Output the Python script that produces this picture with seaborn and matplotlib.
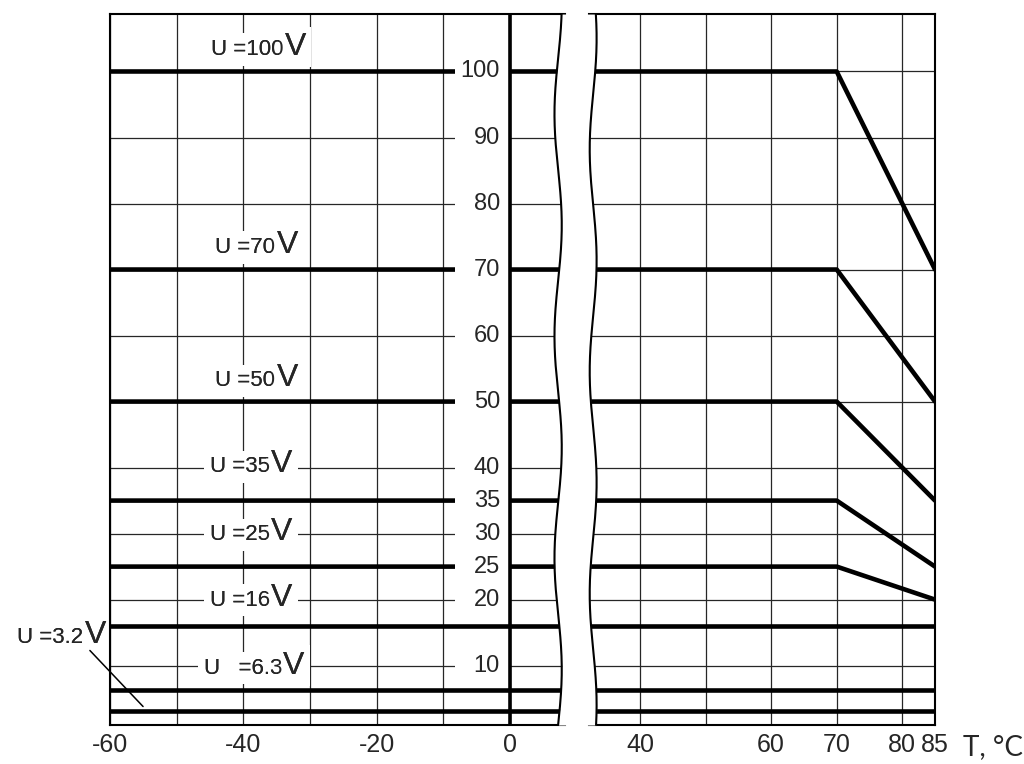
import numpy as np
import pandas as pd
import matplotlib.pyplot as plt
import seaborn as sns

sns.set_style("white")
plt.rcParams['font.family'] = ['Liberation Sans', 'DejaVu Sans']
plt.rcParams['axes.unicode_minus'] = False

# Voltage derating: rated voltage up to 70 °C, reduced value at 85 °C
u_labels = ["100", "70", "50", "35", "25", "16", "6.3", "3.2"]
u_rated = [100, 70, 50, 35, 25, 16, 6.3, 3.2]
u_at_85 = [70, 50, 35, 25, 20, 16, 6.3, 3.2]
t_points = [-60, 70, 85]

# axis ticks / grid
y_tick_values = [100, 90, 80, 70, 60, 50, 40, 35, 30, 25, 20, 10]
grid_y = [10, 20, 30, 40, 50, 60, 70, 80, 90, 100]
left_xticks = [-60, -40, -20, 0]
left_minor_x = [-50, -30, -10]
right_xticks = [40, 60, 70, 80, 85]
right_minor_x = [50]

# lines that cross the tick-label column without a gap
through_lines = ["16", "6.3", "3.2"]

rows = []
for lab, u0, u1 in zip(u_labels, u_rated, u_at_85):
    rows.append((lab, t_points[0], u0))
    rows.append((lab, t_points[1], u0))
    rows.append((lab, t_points[2], u1))
df = pd.DataFrame(rows, columns=["U_label", "T", "U"])

# label layout (end of number x, baseline y)
label_pos = {"100": (-34.0, 102.5), "70": (-35.2, 72.5), "50": (-35.2, 52.3),
             "35": (-36.0, 39.3), "25": (-36.0, 29.0), "16": (-36.0, 19.1),
             "6.3": (-34.2, 8.8), "3.2": (-64.0, 13.5)}

fig = plt.figure(figsize=(10.24, 7.64), dpi=100)
ax_l = fig.add_axes([0.1074, 0.0510, 0.4443, 0.9306])
ax_r = fig.add_axes([0.5752, 0.0510, 0.3379, 0.9306])

grid_kw = dict(color='#262626', lw=0.9)
line_kw = dict(color='black', lw=3.3, legend=False, estimator=None)

for ax in (ax_l, ax_r):
    ax.set_ylim(1.0, 108.7)
    ax.set_yticks(grid_y)
    ax.tick_params(axis='both', which='both', length=0, labelleft=False,
                   labelsize=18, pad=6)
    ax.grid(True, which='both', **grid_kw)
    ax.set_axisbelow(True)
    for s in ax.spines.values():
        s.set_color('black')
        s.set_linewidth(1.5)
        s.set_zorder(6)

# left part
ax_l.set_xlim(-60, 8.25)
ax_l.set_xticks(left_xticks)
ax_l.set_xticks(left_minor_x, minor=True)
main = df[~df["U_label"].isin(through_lines)]
thru = df[df["U_label"].isin(through_lines)]
sns.lineplot(data=main, x="T", y="U", units="U_label", ax=ax_l, zorder=2, **line_kw)
ax_l.axvspan(-8.25, 0, color='white', zorder=3, lw=0)
sns.lineplot(data=thru, x="T", y="U", units="U_label", ax=ax_l, zorder=4, **line_kw)
ax_l.axvline(0, color='black', lw=2.6, zorder=5)
for v in y_tick_values:
    ax_l.text(-1.5, v, str(v), ha='right', va='center', fontsize=17, zorder=6)
ax_l.spines['right'].set_visible(False)

# right part
ax_r.set_xlim(32.2, 85)
ax_r.set_xticks(right_xticks)
ax_r.set_xticks(right_minor_x, minor=True)
sns.lineplot(data=df, x="T", y="U", units="U_label", ax=ax_r, zorder=2, **line_kw)
ax_r.spines['left'].set_visible(False)
for ax in (ax_l, ax_r):
    ax.set_xlabel('')
    ax.set_ylabel('')

# wavy break edges
yy = np.linspace(0, 1, 300)
wave_l = 0.985 + 0.008 * np.sin(yy * 2 * np.pi * 3.2)
ax_l.fill_betweenx(yy, wave_l, 1.03, transform=ax_l.transAxes, color='white',
                   zorder=7, clip_on=False, lw=0)
ax_l.plot(wave_l, yy, transform=ax_l.transAxes, color='black', lw=1.5,
          zorder=8, clip_on=False)
wave_r = 0.012 + 0.01 * np.sin(yy * 2 * np.pi * 3.2 + 1.0)
ax_r.fill_betweenx(yy, -0.03, wave_r, transform=ax_r.transAxes, color='white',
                   zorder=7, clip_on=False, lw=0)
ax_r.plot(wave_r, yy, transform=ax_r.transAxes, color='black', lw=1.5,
          zorder=8, clip_on=False)

# voltage labels: white boxes first, glyphs on top
for lab in u_labels:
    x, y = label_pos[lab]
    txt = "U   =" + lab if lab == "6.3" else "U =" + lab
    box = dict(facecolor='white', edgecolor='none', pad=0 if x < -60 else 4)
    for z, bb in ((8.5, box), (9, None)):
        ax_l.text(x, y, txt, ha='right', va='baseline', fontsize=16, bbox=bb,
                  zorder=z, clip_on=False)
        ax_l.text(x + 0.2, y, "V", ha='left', va='baseline', fontsize=23,
                  bbox=bb, zorder=z, clip_on=False)
ax_l.annotate("", xy=(-54.75, 3.5), xytext=(-63.3, 12.6),
              arrowprops=dict(arrowstyle='-', lw=1.1, color='black'),
              annotation_clip=False, zorder=9)

fig.text(0.940, 0.012, "T, °C", fontsize=20, family=['Lato', 'DejaVu Sans'],
         ha='left', va='baseline')

fig.savefig("out.png", dpi=100)
